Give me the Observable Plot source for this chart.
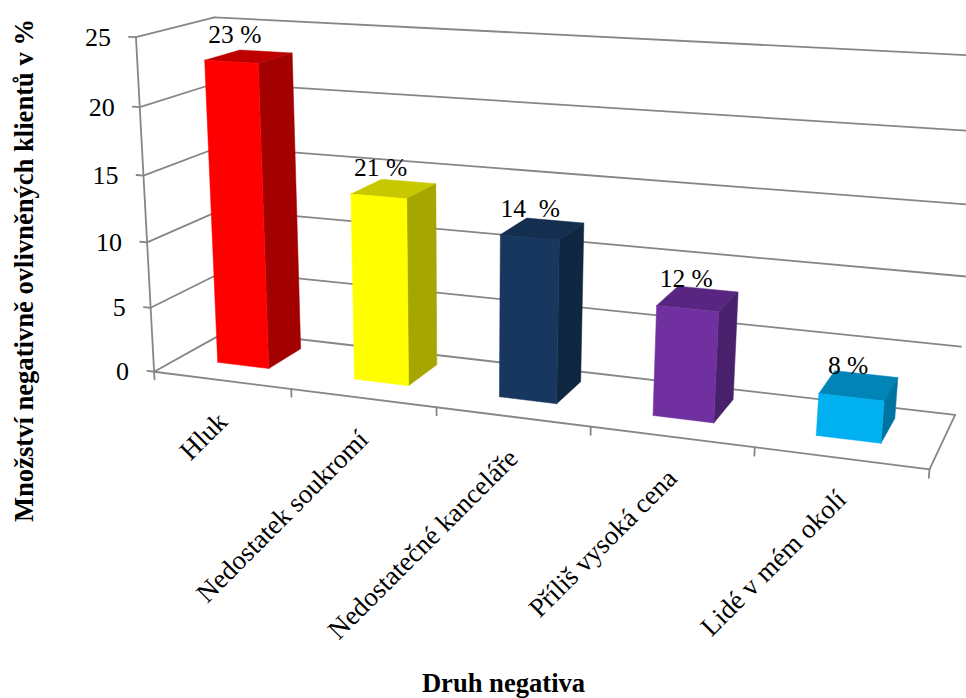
<!DOCTYPE html>
<html><head><meta charset="utf-8">
<script src="https://cdn.jsdelivr.net/npm/d3@7"></script>
<script src="https://cdn.jsdelivr.net/npm/@observablehq/plot@0.6"></script>
<style>html,body{margin:0;padding:0;background:#fff;overflow:hidden}</style>
</head><body><div id="chart"></div>
<script>
const categories = ["Hluk","Nedostatek soukromí","Nedostatečné kanceláře","Příliš vysoká cena","Lidé v mém okolí"];
const values = [23,14,12,8,3];
const valueLabels = ["23 %","21 %","14\u00A0\u00A0%","12 %","8 %"];
const yTicks = [0,5,10,15,20,25];
const frontColors = ["#FF0000","#FFFF00","#17375E","#7030A0","#00B0F0"];
const topColors = ["#BF0000","#C8C800","#132E4E","#582680","#0085B6"];
const sideColors = ["#A30000","#A6A600","#0F2740","#48206B","#0074A0"];
const xTitle = "Druh negativa";
const yTitle = "Množství negativně ovlivněných klientů v %";

// camera calibration: (category, value, depth) -> picture position
const calibration = [
  [0,0,0,155,370],[0,0,0,155,370],[0,25,0,134,37],[0,25,0,134,37],[0,25,1,217,16],[0,0,1,224,333],
  [5,0,0,929,471],[5,0,1,955,412],[5,25,1,985,56]
];
function solve(A,b){
  const n=b.length, M=A.map((r,i)=>[...r,b[i]]);
  for(let i=0;i<n;i++){
    let p=i; for(let k=i+1;k<n;k++) if(Math.abs(M[k][i])>Math.abs(M[p][i])) p=k;
    [M[i],M[p]]=[M[p],M[i]];
    for(let k=0;k<n;k++){ if(k===i) continue; const f=M[k][i]/M[i][i]; for(let j=i;j<=n;j++) M[k][j]-=f*M[i][j]; }
  }
  return M.map((r,i)=>r[n]/r[i]);
}
const H=(()=>{
  const rows=[],rhs=[];
  for(const [u,v,w,x,y] of calibration){
    const U=u, V=v/10, W=w;
    rows.push([U,V,W,1,0,0,0,0,-x*U,-x*V,-x*W]); rhs.push(x);
    rows.push([0,0,0,0,U,V,W,1,-y*U,-y*V,-y*W]); rhs.push(y);
  }
  const sc=[1,1,1,1,1,1,1,1,1000,1000,1000];
  const R=rows.map(r=>r.map((c,j)=>c/sc[j]));
  const ATA=Array.from({length:11},(_,i)=>Array.from({length:11},(_,j)=>d3.sum(R,r=>r[i]*r[j])));
  const ATb=Array.from({length:11},(_,i)=>d3.sum(R,(r,k)=>r[i]*rhs[k]));
  return solve(ATA,ATb).map((h,j)=>h/sc[j]);
})();
function project(u,v,w){
  const V=v/10, d=H[8]*u+H[9]*V+H[10]*w+1;
  return [(H[0]*u+H[1]*V+H[2]*w+H[3])/d,(H[4]*u+H[5]*V+H[6]*w+H[7])/d];
}
const seg=(id,a,b)=>[{id,p:project(...a)},{id,p:project(...b)}];

const nCat=categories.length, maxV=d3.max(yTicks);
const barWidth=0.38, barShift=-0.02, depth0=0.33, depth1=0.80;
const gridPts=[];
yTicks.forEach(t=>{
  gridPts.push(...seg("l"+t,[0,t,0],[0,t,1]),...seg("b"+t,[0,t,1],[nCat,t,1]));
  gridPts.push(...seg("t"+t,[0,t,0],[-0.05,t,0]));
});
gridPts.push(...seg("axisV",[0,0,0],[0,maxV,0]));
gridPts.push(...seg("axisF",[0,0,0],[nCat,0,0]));
gridPts.push(...seg("axisR",[nCat,0,0],[nCat,0,1]));
d3.range(0,nCat+1).forEach(i=>gridPts.push(...seg("x"+i,[i,0,0],[i,-0.6,0])));

const faces=[];
values.forEach((v,i)=>{
  const a=i+0.5+barShift-barWidth/2,b=i+0.5+barShift+barWidth/2;
  const poly=(id,color,pts)=>[...pts,pts[0]].forEach(q=>faces.push({id,color,p:project(...q)}));
  poly("top"+i,topColors[i],[[a,v,depth0],[b,v,depth0],[b,v,depth1],[a,v,depth1]]);
  poly("side"+i,sideColors[i],[[b,0,depth0],[b,v,depth0],[b,v,depth1],[b,0,depth1]]);
  poly("front"+i,frontColors[i],[[a,0,depth0],[b,0,depth0],[b,v,depth0],[a,v,depth0]]);
});

const tickText=yTicks.map(t=>{const p=project(0,t,0);return {t:String(t),x:p[0]-25,y:p[1]};});
const catText=categories.map((c,i)=>{const p=project(i+0.5,0,0);return {c,x:p[0]+1,y:p[1]+37};});
const valText=values.map((v,i)=>{const p=project(i+0.5,v,0.5);return {l:valueLabels[i],x:p[0]-12,y:p[1]-23};});

const serif="'Liberation Serif','Times New Roman',serif";
const chart=Plot.plot({
  width:966,height:698,margin:0,
  x:{domain:[0,966],range:[0,966],axis:null},
  y:{domain:[0,698],range:[0,698],axis:null},
  color:{type:"identity"},
  style:{background:"#fff",fontFamily:serif},
  marks:[
    Plot.line(gridPts,{x:d=>d.p[0],y:d=>d.p[1],z:"id",stroke:"#868686",strokeWidth:1.8,clip:"frame"}),
    Plot.line(faces,{x:d=>d.p[0],y:d=>d.p[1],z:"id",fill:"color",stroke:"color",strokeWidth:0.5}),
    Plot.text(tickText,{x:"x",y:"y",text:"t",textAnchor:"end",fontSize:26,fill:"#000"}),
    Plot.text(catText,{x:"x",y:"y",text:"c",textAnchor:"end",rotate:-45,fontSize:27,fill:"#000"}),
    Plot.text(valText,{x:"x",y:"y",text:"l",fontSize:25.5,fill:"#000"}),
    Plot.text([xTitle],{x:()=>503,y:()=>683,text:d=>d,fontSize:26.6,fontWeight:"bold",fill:"#000"}),
    Plot.text([yTitle],{x:()=>24,y:()=>270,text:d=>d,rotate:-90,fontSize:26.6,fontWeight:"bold",fill:"#000"})
  ]
});
document.getElementById("chart").appendChild(chart);
</script></body></html>
